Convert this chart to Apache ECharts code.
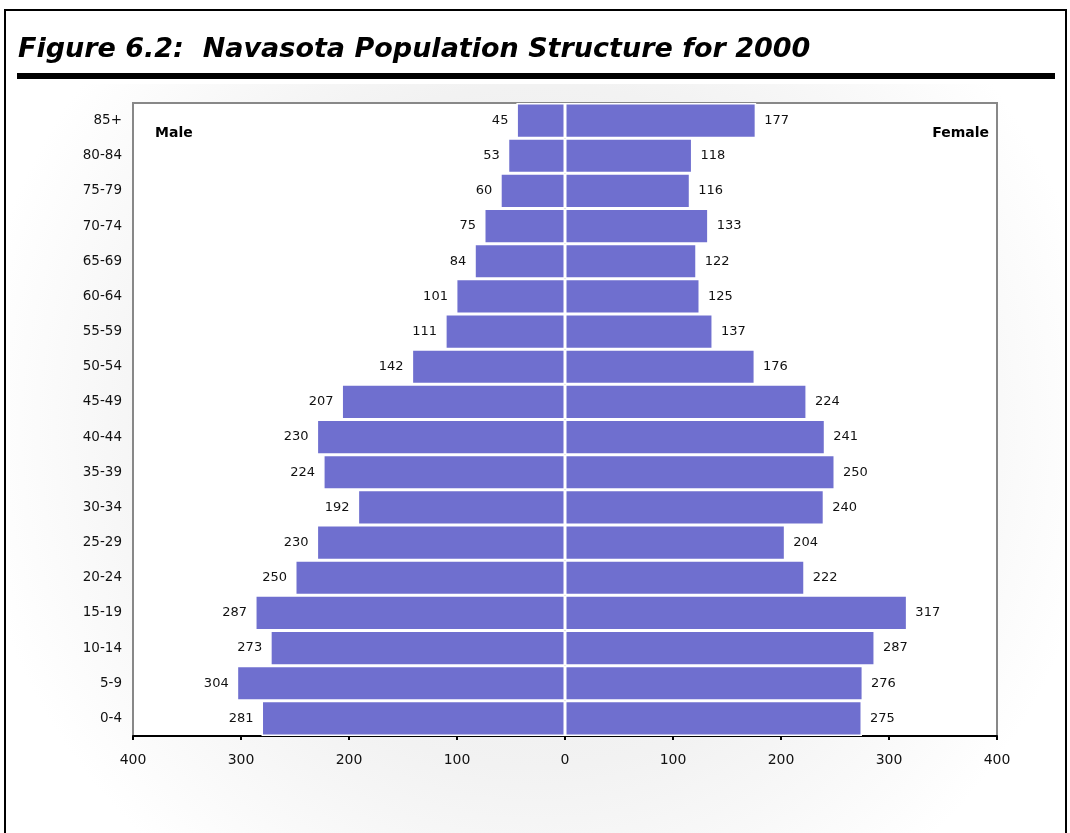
<!DOCTYPE html>
<html><head><meta charset="utf-8">
<script src="https://cdn.jsdelivr.net/npm/echarts@6/dist/echarts.min.js"></script>
<style>html,body{margin:0;padding:0;background:#fff}#c{width:1070px;height:833px}</style>
</head><body><div id="c"></div>
<script>
const ageGroups = ['0-4','5-9','10-14','15-19','20-24','25-29','30-34','35-39','40-44','45-49','50-54','55-59','60-64','65-69','70-74','75-79','80-84','85+'];
const male =   [281,304,273,287,250,230,192,224,230,207,142,111,101,84,75,60,53,45];
const female = [275,276,287,317,222,204,240,250,241,224,176,137,125,122,133,116,118,177];
const xTicks = [-400,-300,-200,-100,0,100,200,300,400];

const chart = echarts.init(document.getElementById('c'));
const font = 'DejaVu Sans';
const barColor = '#6f6fcf';
chart.setOption({
  backgroundColor: '#fff',
  animation: false,
  textStyle: {fontFamily: font},
  graphic: [
    {type:'rect', z:-10, shape:{x:10,y:84,width:1054,height:760},
     style:{fill:{type:'radial',x:0.5,y:0.45,r:0.75,colorStops:[{offset:0,color:'#e8e8e8'},{offset:0.6,color:'#f2f2f2'},{offset:1,color:'#ffffff'}]}}},
    {type:'rect', z:10, shape:{x:5,y:10,width:1061,height:840}, style:{fill:'none',stroke:'#000',lineWidth:2}},
    {type:'text', z:10, left:18, top:36, style:{text:'Figure 6.2:  Navasota Population Structure for 2000', font:'italic bold 27px "DejaVu Sans"', fill:'#000'}},
    {type:'rect', z:10, shape:{x:17,y:73,width:1038,height:6}, style:{fill:'#000'}},
    {type:'text', z:10, left:155, top:126, style:{text:'Male', font:'bold 14px "DejaVu Sans"', fill:'#000'}},
    {type:'text', z:10, right:81, top:126, style:{text:'Female', font:'bold 14px "DejaVu Sans"', fill:'#000'}}
  ],
  grid: {left:133, right:73, top:103, bottom:97, show:true, backgroundColor:'#fff', borderColor:'#888', borderWidth:2},
  xAxis: {
    type:'value', min:xTicks[0], max:xTicks[xTicks.length-1], interval:100,
    axisLine:{show:true, onZero:false, lineStyle:{color:'#000', width:2}},
    axisTick:{show:true, length:4, lineStyle:{color:'#000', width:2}},
    splitLine:{show:false},
    axisLabel:{color:'#111', fontSize:14, margin:17, formatter: v => Math.abs(v)}
  },
  yAxis: {
    type:'category', data: ageGroups,
    axisLine:{show:true, lineStyle:{color:'#888', width:2}},
    axisTick:{show:false},
    axisLabel:{color:'#111', fontSize:13.5, margin:11}
  },
  series: [
    {name:'Male', type:'bar', data: male.map(v => -v), barCategoryGap:'0%', barGap:'-100%',
     itemStyle:{color:barColor, borderColor:'#fff', borderWidth:1.5},
     label:{show:true, position:'left', distance:8, color:'#111', fontSize:13, formatter: p => Math.abs(p.value)}},
    {name:'Female', type:'bar', data: female, barCategoryGap:'0%', barGap:'-100%',
     itemStyle:{color:barColor, borderColor:'#fff', borderWidth:1.5},
     label:{show:true, position:'right', distance:8, color:'#111', fontSize:13}}
  ]
});
</script></body></html>
